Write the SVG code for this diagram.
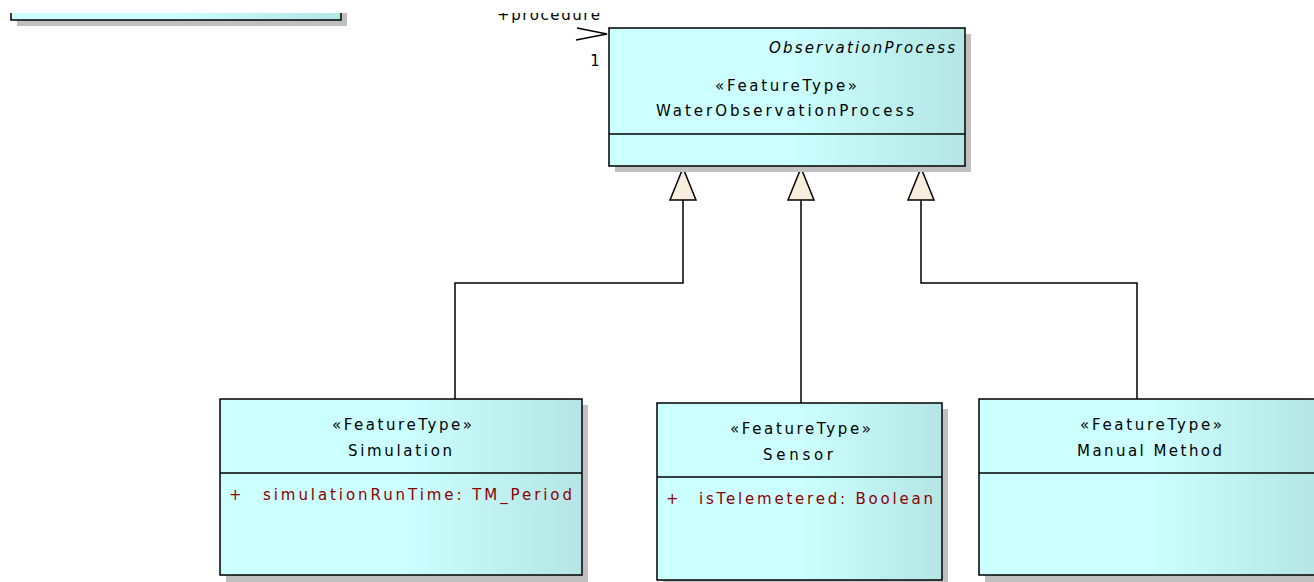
<svg xmlns="http://www.w3.org/2000/svg" width="1314" height="582" viewBox="0 0 1314 582">
<defs>
<linearGradient id="fill" x1="0" y1="0" x2="1" y2="0">
<stop offset="0" stop-color="#ccffff"/>
<stop offset="0.5" stop-color="#ccffff"/>
<stop offset="1" stop-color="#b5e5e5"/>
</linearGradient>
<clipPath id="topclip"><rect x="0" y="13" width="1314" height="569"/></clipPath>
</defs>
<style>
.shadow{fill:#c0c0c0;}
.box{fill:url(#fill);stroke:#000;stroke-width:1.5;}
.div{stroke:#000;stroke-width:1.5;}
.t{font-family:"DejaVu Sans","Liberation Sans",Arial,sans-serif;font-size:15px;fill:#000;}
.it{font-style:italic;}
.attr{fill:#8b0000;}
.conn{fill:none;stroke:#000;stroke-width:1.5;}
.gen{fill:#f8eedd;stroke:#000;stroke-width:1.5;}
</style>
<rect width="1314" height="582" fill="#fff"/>

<g id="node-top-left" clip-path="url(#topclip)">
<rect class="shadow" x="17" y="-20" width="330" height="46"/>
<rect class="box" x="11" y="-30" width="330" height="50"/>
</g>

<g id="connectors">
<g clip-path="url(#topclip)">
<text class="t" x="497" y="20" textLength="103" lengthAdjust="spacing">+procedure</text>
</g>
<polyline class="conn" points="577,28 607,34 576,40"/>
<text class="t" x="595" y="66" text-anchor="middle">1</text>
<polyline class="conn" points="683,200 683,283 455,283 455,399"/>
<line class="conn" x1="801" y1="200" x2="801" y2="403"/>
<polyline class="conn" points="921,200 921,283 1137,283 1137,399"/>
<polygon class="gen" points="683,168 670,200 696,200"/>
<polygon class="gen" points="801,168 788,200 814,200"/>
<polygon class="gen" points="921,168 908,200 934,200"/>
</g>

<g id="node-WaterObservationProcess">
<rect class="shadow" x="615" y="34" width="356" height="138"/>
<rect class="box" x="609" y="28" width="356" height="138"/>
<line class="div" x1="609" y1="134" x2="965" y2="134"/>
<text class="t it" x="769" y="53" textLength="186" lengthAdjust="spacing">ObservationProcess</text>
<text class="t" x="715" y="91" textLength="142" lengthAdjust="spacing">«FeatureType»</text>
<text class="t" x="656" y="116" textLength="258" lengthAdjust="spacing">WaterObservationProcess</text>
</g>

<g id="node-Simulation">
<rect class="shadow" x="226" y="405" width="362" height="177"/>
<rect class="box" x="220" y="399" width="362" height="176"/>
<line class="div" x1="220" y1="473" x2="582" y2="473"/>
<text class="t" x="332" y="430" textLength="140" lengthAdjust="spacing">«FeatureType»</text>
<text class="t" x="348" y="456" textLength="104" lengthAdjust="spacing">Simulation</text>
<text class="t attr" x="229" y="500">+</text>
<text class="t attr" x="263" y="500" textLength="309" lengthAdjust="spacing">simulationRunTime: TM_Period</text>
</g>

<g id="node-Sensor">
<rect class="shadow" x="663" y="409" width="285" height="177"/>
<rect class="box" x="657" y="403" width="285" height="177"/>
<line class="div" x1="657" y1="477" x2="942" y2="477"/>
<text class="t" x="730" y="434" textLength="141" lengthAdjust="spacing">«FeatureType»</text>
<text class="t" x="763" y="460" textLength="70" lengthAdjust="spacing">Sensor</text>
<text class="t attr" x="666" y="504">+</text>
<text class="t attr" x="699" y="504" textLength="234" lengthAdjust="spacing">isTelemetered: Boolean</text>
</g>

<g id="node-ManualMethod">
<rect class="shadow" x="985" y="405" width="340" height="177"/>
<rect class="box" x="979" y="399" width="340" height="176"/>
<line class="div" x1="979" y1="473" x2="1319" y2="473"/>
<text class="t" x="1080" y="430" textLength="142" lengthAdjust="spacing">«FeatureType»</text>
<text class="t" x="1077" y="456" textLength="145" lengthAdjust="spacing">Manual Method</text>
</g>
</svg>
